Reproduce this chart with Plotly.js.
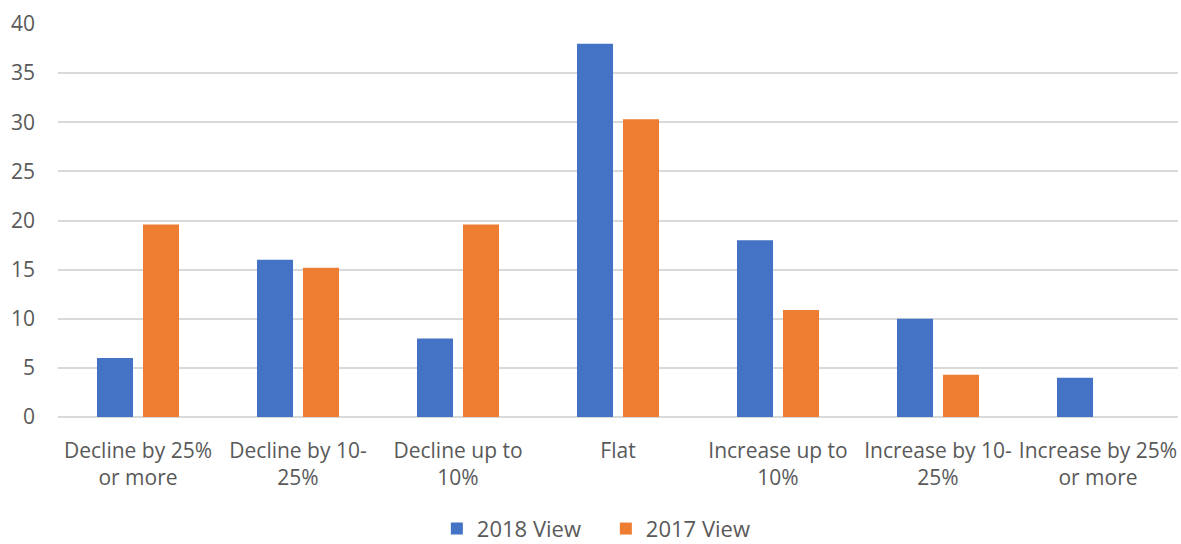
<!DOCTYPE html>
<html>
<head>
<meta charset="utf-8">
<script src="https://cdn.plot.ly/plotly-3.0.1.min.js"></script>
<style>html,body{margin:0;padding:0;background:#fff;}#chart{width:1181px;height:544px;}</style>
</head>
<body>
<div id="chart"></div>
<script>
var categories = ["Decline by 25%<br>or more", "Decline by 10-<br>25%", "Decline up to<br>10%", "Flat", "Increase up to<br>10%", "Increase by 10-<br>25%", "Increase by 25%<br>or more"];
var view2018 = [6, 16, 8, 38, 18, 10, 4];
var view2017 = [19.6, 15.2, 19.6, 30.3, 10.9, 4.3, 0];
var yTicks = [0, 5, 10, 15, 20, 25, 30, 35, 40];

var fontFam = "'Open Sans', 'Noto Sans', sans-serif";
var traces = [
  {type: "bar", name: "2018 View", x: categories, y: view2018, marker: {color: "#4472C4"}, hoverinfo: "y"},
  {type: "bar", name: "2017 View", x: categories, y: view2017, marker: {color: "#ED7D31"}, hoverinfo: "y"}
];
var layout = {
  width: 1181, height: 544,
  margin: {l: 58, r: 3, t: 24, b: 127},
  paper_bgcolor: "#fff", plot_bgcolor: "#fff",
  barmode: "group", bargap: 0.425, bargroupgap: 0.217,
  font: {family: fontFam, color: "#595959", size: 21},
  xaxis: {
    type: "category", showgrid: false, showline: false, zeroline: false,
    ticks: "", tickfont: {size: 21, color: "#595959"}, ticklabelstandoff: 19
  },
  yaxis: {
    range: [0, 40], tickvals: yTicks, ticktext: yTicks.map(String),
    showgrid: true, gridcolor: "#d9d9d9", gridwidth: 2,
    zeroline: true, zerolinecolor: "#d9d9d9", zerolinewidth: 2,
    showline: false, ticks: "", tickfont: {size: 21, color: "#595959"},
    ticklabelstandoff: 22, fixedrange: true
  },
  legend: {
    orientation: "h", x: 0.513, xanchor: "center", xref: "container",
    y: 0.028, yanchor: "middle", yref: "container", borderwidth: 0,
    font: {size: 22, color: "#595959"}, itemwidth: 30, entrywidth: 124, traceorder: "normal"
  },
  showlegend: true
};
Plotly.newPlot("chart", traces, layout, {displayModeBar: false, staticPlot: true});
</script>
</body>
</html>
